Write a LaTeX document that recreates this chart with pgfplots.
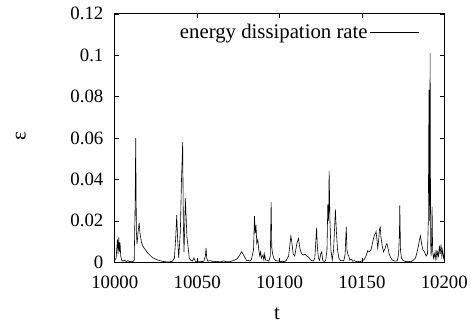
\documentclass[border=0pt]{standalone}
\usepackage{fontspec}
\setmainfont{Liberation Serif}
\usepackage{pgfplots}
\pgfplotsset{compat=1.18}
\begin{document}
\newcommand{\bigf}{\fontsize{19}{22}\selectfont}
\newcommand{\legf}{\fontsize{21}{24}\selectfont}
\begin{tikzpicture}[font=\bigf]
\useasboundingbox (-111pt,-62pt) rectangle (361pt,265pt);
\begin{axis}[
  at={(0pt,0pt)}, anchor=south west,
  scale only axis, width=333pt, height=251pt,
  xmin=10000, xmax=10200, ymin=0, ymax=0.12,
  xtick={10000,10050,10100,10150,10200},
  ytick={0,0.02,0.04,0.06,0.08,0.1,0.12},
  scaled x ticks=false, scaled y ticks=false,
  /pgf/number format/assume math mode=true,
  xticklabel style={/pgf/number format/1000 sep={}, font=\bigf, yshift=-10pt},
  yticklabel style={/pgf/number format/fixed, /pgf/number format/precision=2, font=\bigf, xshift=-8pt},
  tick align=inside, major tick length=4pt,
  axis line style={line width=0.9pt},
  every tick/.style={black, line width=0.6pt},
  xlabel={t}, ylabel={ε},
  every axis x label/.style={at={(axis description cs:0.4925,-0.207)}, anchor=center, font=\legf},
  every axis y label/.style={at={(axis description cs:-0.285,0.508)}, anchor=center, rotate=90, font=\legf},
  legend plot pos=right,
  legend style={at={(axis description cs:0.935,0.975)}, anchor=north east, draw=none, fill=none, font=\legf},
  legend image code/.code={\draw[#1] (0pt,0pt) -- (50pt,0pt);},
]
\addplot[black, line width=0.6pt] coordinates {
(10000,0.001) (10000.8,0.002) (10001.6,0.011) (10002.0,0.004) (10002.4,0.012) (10002.8,0.005)
(10003.2,0.0095) (10003.6,0.003) (10004.2,0.001) (10005,0.0005) (10006,0.001) (10007,0.0003)
(10008,0.0008) (10009,0.0002) (10010,0.0005) (10011,0.0003) (10011.8,0.001) (10012.4,0.03)
(10012.7,0.060) (10013.1,0.015) (10013.5,0.0088) (10014.2,0.015) (10014.8,0.019) (10015.3,0.014)
(10016.2,0.0096) (10017,0.0078) (10018.2,0.0064) (10019.2,0.0053) (10020.2,0.0043) (10021.2,0.0035)
(10022.2,0.0027) (10023.2,0.0021) (10024.2,0.0017) (10025.5,0.0012) (10027.2,0.0008) (10029,0.0004)
(10031,0.0002) (10033,0.0001) (10035,0.0005) (10036.2,0.002) (10037.0,0.012) (10037.6,0.0228)
(10038.1,0.012) (10038.8,0.002) (10039.8,0.015) (10040.5,0.040) (10041.2,0.058) (10041.6,0.02)
(10042.0,0.005) (10042.4,0.015) (10042.8,0.031) (10043.3,0.022) (10043.8,0.012) (10044.3,0.009)
(10045.2,0.002) (10046,0.001) (10047,0.0005) (10048,0.002) (10049,0.0003) (10050,0.0002)
(10052,0.0003) (10054,0.0004) (10055,0.003) (10055.4,0.0069) (10055.8,0.002) (10056.5,0.0005)
(10058,0.0008) (10060,0.0002) (10062,0.0005) (10064,0.0001) (10066,0.0006) (10068,0.0002)
(10070,0.0003) (10072,0.0008) (10074,0.0015) (10075.5,0.003) (10077,0.0051) (10078.5,0.003)
(10080,0.0008) (10081,0.001) (10082,0.0005) (10083,0.0015) (10084.2,0.006) (10084.8,0.0223)
(10085.2,0.014) (10085.7,0.018) (10086.2,0.009) (10086.8,0.011) (10087.4,0.006) (10088,0.003)
(10088.5,0.005) (10089,0.002) (10090,0.0035) (10090.5,0.001) (10091,0.004) (10091.5,0.001)
(10092.5,0.001) (10093.5,0.0005) (10094.4,0.003) (10094.9,0.029) (10095.3,0.007) (10095.8,0.004)
(10096.5,0.002) (10097.5,0.0008) (10099,0.0006) (10100,0.0006) (10101,0.0003) (10102,0.0005)
(10103,0.0002) (10104,0.0008) (10105.5,0.003) (10106.9,0.0127) (10107.4,0.010) (10108.3,0.004)
(10109.2,0.003) (10110.5,0.009) (10111.5,0.0115) (10112.5,0.006) (10113.5,0.004) (10114.5,0.0035)
(10115.5,0.004) (10116.5,0.003) (10117.5,0.0025) (10118.5,0.0015) (10119.5,0.0008) (10120.5,0.0005)
(10121.4,0.002) (10122.1,0.011) (10122.5,0.0167) (10122.9,0.008) (10123.6,0.002) (10124.3,0.001)
(10125.0,0.004) (10125.6,0.005) (10126.2,0.001) (10127,0.0003) (10128,0.0008) (10128.8,0.006)
(10129.3,0.028) (10129.8,0.02) (10130.1,0.0441) (10130.6,0.02) (10131.2,0.006) (10132,0.001)
(10132.8,0.006) (10133.5,0.018) (10133.9,0.0255) (10134.5,0.015) (10135.2,0.006) (10136,0.002)
(10137,0.0008) (10138,0.001) (10139,0.0006) (10139.8,0.004) (10140.5,0.0172) (10140.9,0.006)
(10141.4,0.004) (10142,0.003) (10142.7,0.001) (10143.5,0.0015) (10144.5,0.0005) (10145.5,0.0008)
(10146.5,0.0003) (10147.5,0.0005) (10148.5,0.0002) (10149.5,0.0005) (10150.5,0.0008) (10151.5,0.0015)
(10152.5,0.003) (10153.6,0.0056) (10154.5,0.005) (10155.5,0.006) (10156.5,0.0095) (10157.5,0.013)
(10158.3,0.014) (10158.6,0.0148) (10159.1,0.011) (10159.6,0.0068) (10160.2,0.011) (10160.7,0.016)
(10161.1,0.017) (10161.6,0.012) (10162.3,0.008) (10163.1,0.005) (10164,0.0065) (10164.7,0.0085)
(10165.2,0.009) (10165.8,0.007) (10166.5,0.004) (10167.6,0.002) (10168.5,0.001) (10169.5,0.0007)
(10170.5,0.0005) (10171.5,0.0008) (10172.3,0.004) (10172.8,0.015) (10173,0.0276) (10173.4,0.006)
(10174,0.002) (10175,0.0008) (10176.5,0.0003) (10178,0.0005) (10179.5,0.0002) (10181,0.0008)
(10182.5,0.002) (10183.5,0.005) (10184.3,0.008) (10185,0.011) (10185.6,0.0128) (10186.2,0.009)
(10187,0.006) (10188,0.005) (10189,0.003) (10189.8,0.004) (10190.3,0.02) (10190.7,0.0833)
(10190.9,0.05) (10191.1,0.02) (10191.4,0.101) (10191.7,0.01) (10192.0,0.003) (10192.3,0.01)
(10192.6,0.0268) (10192.9,0.006) (10193.4,0.002) (10194,0.004) (10194.5,0.0015) (10195,0.006)
(10195.5,0.002) (10196,0.005) (10196.5,0.003) (10197,0.008) (10197.5,0.004) (10198,0.0085)
(10198.5,0.003) (10199,0.006) (10199.5,0.002) (10200,0.004)
};
\addlegendentry{energy dissipation rate}
\end{axis}
\end{tikzpicture}
\end{document}
